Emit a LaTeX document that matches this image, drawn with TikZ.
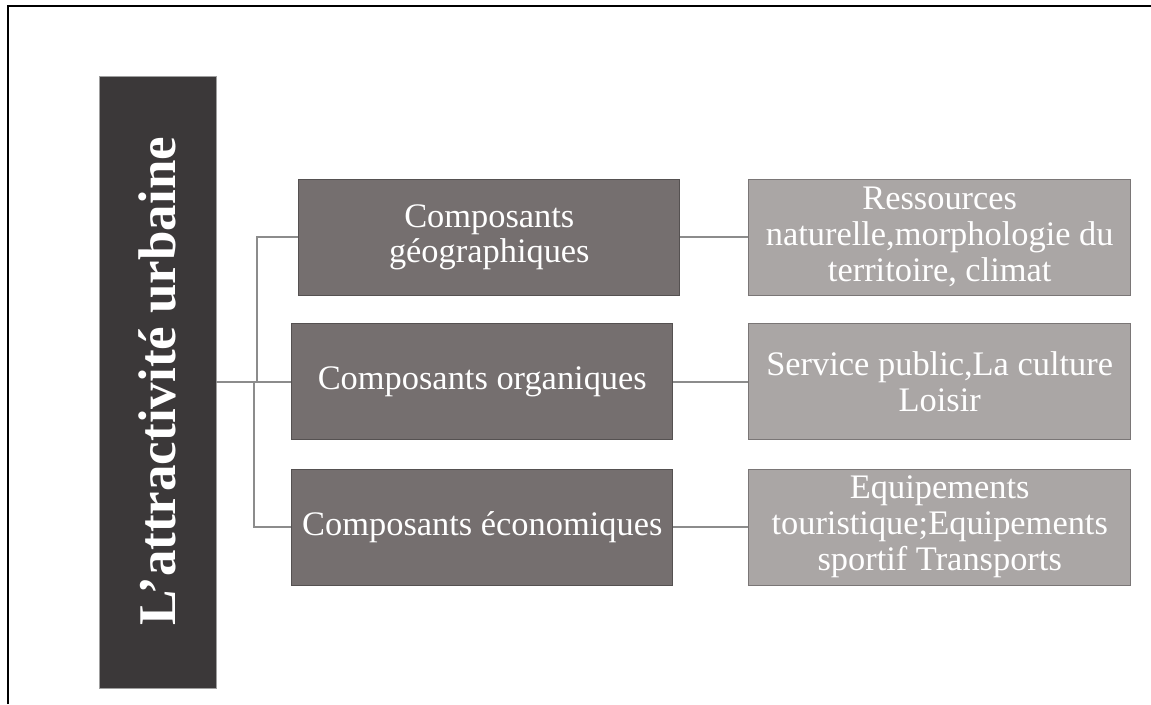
\documentclass[tikz,border=0pt]{standalone}
\usepackage{fontspec}
\setmainfont{Liberation Serif}
\definecolor{rootc}{HTML}{3B3839}
\definecolor{midc}{HTML}{756F6F}
\definecolor{rightc}{HTML}{AAA6A5}
\definecolor{linec}{HTML}{8C8C8C}
\definecolor{midedge}{HTML}{555151}
\definecolor{rightedge}{HTML}{7A7676}
\begin{document}
\begin{tikzpicture}[x=1pt,y=-1pt,
  rootbox/.style={draw=gray!75, fill=rootc, line width=0.8pt, minimum width=117pt, minimum height=612pt, inner sep=0pt},
  roottext/.style={text=white, font=\bfseries\fontsize{53}{53}\selectfont, inner sep=0pt},
  midbox/.style={draw=midedge, fill=midc, line width=0.9pt, minimum width=381pt, minimum height=116pt, text=white, align=center, inner sep=0pt, font=\fontsize{34.4}{35}\selectfont},
  rightbox/.style={draw=rightedge, fill=rightc, line width=0.9pt, minimum width=382pt, minimum height=116pt, text=white, align=center, inner sep=0pt, font=\fontsize{34.4}{36}\selectfont},
  link/.style={draw=linec, line width=2pt}]
\useasboundingbox (0,0) rectangle (1151,704);
\draw[line width=2pt] (7.5,704) -- (7.5,6) -- (1151,6);

\node[rootbox] (root) at (157.5,382) {};
\node[roottext, rotate=90, anchor=base] (rt) at (175,381) {L’attractivité urbaine};

\node[midbox] (m1) at (489.3,237) {Composants\\géographiques};
\node[midbox] (m2) at (482.3,381.5) {Composants organiques};
\node[midbox] (m3) at (482.3,527) {Composants économiques};

\node[rightbox] (r1) at (939.7,237) {Ressources\\naturelle,morphologie du\\territoire, climat};
\node[rightbox] (r2) at (939.7,381.5) {Service public,La culture\\Loisir};
\node[rightbox] (r3) at (939.7,527) {Equipements\\touristique;Equipements\\sportif Transports};

\coordinate (j1) at (257,381.5);
\coordinate (j3) at (253.5,381.5);
\draw[link] (root.east |- m2.west) -- (m2.west);
\draw[link] (j1) |- (m1.west);
\draw[link] (j3) |- (m3.west);
\draw[link] (m1.east) -- (r1.west);
\draw[link] (m2.east) -- (r2.west);
\draw[link] (m3.east) -- (r3.west);
\end{tikzpicture}
\end{document}
